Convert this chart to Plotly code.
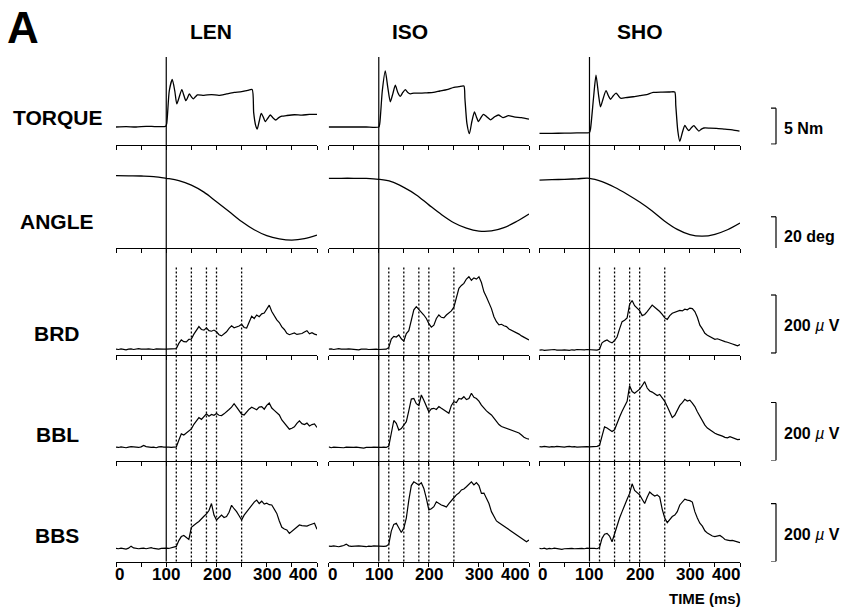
import plotly.graph_objects as go
from plotly.subplots import make_subplots

W, H = 851, 608
FONT = "Liberation Sans, Arial, Helvetica, sans-serif"

# ---------------- data ----------------
conditions = ["LEN", "ISO", "SHO"]
row_labels = ["TORQUE", "ANGLE", "BRD", "BBL", "BBS"]
tick_vals = [0, 50, 100, 150, 200, 250, 300, 350, 400]
label_vals = [0, 100, 200, 300, 400]
label_text = ["0", "100", "200", "300", "400"]
onset_ms = 100
burst_marks_ms = [120, 150, 180, 200, 250]

# torque (Nm, relative)
len_torque_t = [0, 20, 40, 60, 80, 99, 101, 106, 112, 117, 121, 126, 131, 135, 139, 142, 146, 150, 154, 158,
                162, 175, 190, 205, 220, 235, 250, 262, 271, 274, 278, 281, 285, 289, 293, 297, 302, 307, 312, 318,
                324, 330, 340, 355, 370, 385, 400]
len_torque = [0, 0.05, 0, 0.1, 0.05, 0.1, 0.5, 5.0, 6.6, 5.0, 3.2, 4.2, 5.2, 4.4, 3.65, 4.0, 4.6, 4.2, 3.9, 4.2,
              4.45, 4.4, 4.5, 4.4, 4.6, 4.8, 4.9, 5.1, 5.2, 2.0, 0.2, -0.3, 0.8, 1.9, 1.4, 0.75, 1.2, 1.67, 1.3, 0.97,
              1.3, 1.5, 1.6, 1.7, 1.65, 1.75, 1.75]
iso_torque_t = [0, 25, 50, 75, 100, 102, 107, 113, 118, 123, 128, 133, 138, 143, 148, 153, 158, 163, 170, 183,
                196, 209, 222, 236, 250, 260, 270, 272, 276, 281, 286, 291, 295, 299, 304, 309, 316, 323, 331, 339,
                348, 359, 370, 385, 400]
iso_torque = [0, 0, 0, 0, 0, 0.5, 5.0, 7.8, 5.5, 3.5, 4.6, 5.8, 4.8, 4.25, 4.8, 5.2, 4.8, 4.6, 4.7, 4.7,
              4.75, 4.8, 5.0, 5.2, 5.5, 5.6, 5.7, 4.0, 0.5, -0.93, 0.8, 2.1, 1.4, 0.75, 1.3, 1.75, 1.4, 1.0, 1.4, 1.67,
              1.3, 1.57, 1.4, 1.3, 1.1]
sho_torque_t = [0, 25, 50, 75, 100, 102, 108, 113, 118, 122, 127, 133, 138, 142, 147, 153, 158, 162, 175, 187,
                200, 214, 227, 245, 260, 270, 272, 276, 280, 285, 290, 294, 298, 303, 308, 313, 318, 323, 328, 340,
                353, 370, 385, 399]
sho_torque = [-0.88, -0.88, -0.85, -0.82, -0.75, -0.3, 4.0, 7.2, 4.5, 2.8, 3.9, 5.05, 4.3, 3.85, 4.3, 4.7, 4.3, 4.0, 4.1, 4.2,
              4.35, 4.5, 4.8, 4.85, 4.86, 4.86, 3.0, -0.5, -2.0, -0.8, 0.23, -0.2, -0.5, -0.1, 0.18, -0.2, -0.56, -0.3, -0.14, -0.15,
              -0.18, -0.3, -0.4, -0.56]

# elbow angle (deg, relative)
angle_t = [0, 25, 50, 75, 100, 125, 150, 175, 200, 225, 250, 275, 300, 325, 350, 375, 400]
len_angle = [0.2, 0.1, 0, -0.3, -1.3, -2.6, -5.2, -9.2, -14.7, -20.3, -26, -30.7, -34.1, -35.9, -36.6, -35.8, -33.8]
iso_angle = [-1.3, -1.3, -1.3, -1.4, -1.9, -3.2, -6.5, -10.8, -16.5, -22, -26.7, -29.8, -31.5, -31.4, -29.5, -26, -21.7]
sho_angle = [-2.3, -2.1, -1.9, -1.6, -1.3, -3.2, -6.4, -10.4, -14.9, -20, -25.8, -30.5, -33.5, -34.4, -33.3, -30.7, -26.9]

# rectified EMG (uV), every 5 ms from 0 to 400 ms
emg_t = list(range(0, 401, 5))
len_brd = [20, 19, 21, 20, 18, 20, 21, 19, 20, 22, 20, 19, 20, 21, 20, 19, 21, 20, 19, 20,
           20, 21, 20, 21, 22, 40, 52, 46, 45, 54, 55, 72, 86, 98, 88, 86, 94, 84, 82, 86,
           80, 70, 66, 74, 80, 92, 101, 94, 96, 100, 106, 95, 93, 112, 134, 126, 138, 132, 142, 145,
           157, 172, 150, 136, 121, 112, 97, 88, 75, 70, 73, 76, 71, 72, 74, 79, 84, 73, 77, 72, 69]
len_bbl = [46, 45, 47, 46, 44, 46, 48, 47, 46, 45, 47, 52, 48, 46, 45, 46, 44, 47, 48, 46,
           47, 46, 45, 46, 47, 70, 92, 88, 94, 100, 109, 125, 138, 148, 142, 152, 161, 153, 159, 156,
           162, 156, 155, 161, 167, 176, 184, 196, 184, 172, 160, 157, 168, 177, 184, 179, 175, 184, 186, 177,
           190, 198, 181, 173, 165, 157, 140, 128, 116, 108, 111, 116, 128, 137, 127, 124, 129, 119, 124, 126, 114]
len_bbs = [45, 44, 46, 45, 43, 46, 53, 47, 45, 44, 45, 46, 44, 46, 48, 45, 44, 43, 45, 46,
           46, 45, 47, 48, 52, 72, 86, 90, 82, 76, 118, 126, 132, 138, 149, 156, 164, 176, 200, 160,
           143, 152, 160, 152, 155, 170, 194, 182, 172, 158, 143, 160, 172, 180, 195, 205, 212, 200, 208, 198,
           201, 196, 195, 182, 166, 140, 118, 112, 109, 97, 104, 114, 120, 126, 124, 122, 122, 126, 128, 132, 111]
iso_brd = [20, 21, 19, 20, 22, 20, 19, 20, 21, 20, 19, 20, 18, 20, 21, 20, 19, 20, 21, 20,
           19, 20, 21, 20, 26, 55, 64, 62, 69, 56, 48, 74, 84, 118, 156, 167, 158, 150, 138, 126,
           108, 96, 103, 126, 138, 130, 128, 138, 144, 152, 165, 195, 230, 240, 247, 262, 270, 258, 266, 262,
           270, 250, 218, 200, 180, 160, 132, 115, 104, 106, 101, 98, 90, 86, 80, 76, 72, 66, 62, 58, 52]
iso_bbl = [47, 44, 46, 45, 44, 45, 44, 46, 45, 44, 45, 46, 45, 44, 43, 45, 44, 45, 46, 45,
           44, 45, 46, 45, 50, 100, 138, 128, 105, 110, 122, 134, 172, 212, 214, 196, 190, 226, 208, 190,
           168, 178, 180, 176, 186, 180, 174, 170, 163, 190, 203, 200, 214, 212, 220, 210, 214, 232, 218, 214,
           205, 191, 180, 171, 164, 157, 146, 134, 124, 117, 114, 111, 108, 105, 102, 99, 95, 88, 80, 76, 74]
iso_bbs = [53, 52, 54, 53, 51, 53, 55, 60, 54, 52, 53, 52, 54, 53, 52, 51, 53, 52, 54, 53,
           52, 53, 52, 53, 60, 105, 128, 132, 118, 100, 115, 150, 212, 262, 275, 270, 264, 272, 252, 218,
           178, 182, 189, 206, 200, 195, 192, 188, 200, 212, 220, 230, 236, 247, 250, 258, 266, 275, 264, 272,
           262, 235, 236, 216, 200, 172, 156, 140, 134, 128, 122, 115, 110, 104, 99, 93, 88, 80, 74, 68, 74]
sho_brd = [17, 18, 16, 17, 18, 17, 19, 17, 16, 17, 18, 17, 16, 18, 17, 19, 18, 17, 18, 19,
           18, 17, 16, 17, 20, 42, 48, 52, 46, 42, 50, 62, 90, 115, 120, 128, 175, 188, 170, 160,
           153, 136, 140, 150, 160, 172, 165, 158, 150, 140, 128, 123, 136, 144, 148, 150, 154, 152, 158, 156,
           162, 160, 150, 130, 103, 90, 75, 68, 63, 60, 54, 56, 52, 48, 46, 44, 40, 38, 35, 32, 36]
sho_bbl = [48, 47, 49, 48, 46, 48, 47, 49, 48, 47, 46, 48, 49, 47, 48, 46, 47, 48, 49, 48,
           47, 48, 47, 49, 52, 86, 116, 112, 105, 100, 106, 132, 150, 170, 186, 204, 258, 238, 232, 238,
           246, 258, 272, 250, 240, 236, 230, 224, 228, 215, 204, 186, 165, 148, 156, 172, 190, 200, 211, 205,
           208, 198, 186, 168, 151, 136, 122, 112, 105, 98, 94, 90, 88, 84, 80, 78, 82, 78, 76, 72, 73]
sho_bbs = [45, 44, 46, 43, 45, 44, 46, 45, 44, 42, 44, 45, 46, 45, 44, 45, 46, 45, 44, 46,
           45, 46, 45, 44, 48, 80, 94, 97, 88, 68, 98, 128, 150, 172, 196, 215, 235, 268, 245, 236,
           230, 215, 200, 222, 240, 232, 226, 230, 222, 180, 150, 134, 146, 155, 160, 172, 195, 206, 215, 212,
           210, 205, 172, 150, 132, 122, 106, 98, 92, 88, 86, 88, 90, 84, 76, 74, 72, 73, 70, 68, 65]

scale_values = [5, 20, 200, 200, 200]
scale_labels = ["<b>5 Nm</b>", "<b>20 deg</b>", "<b>200 </b><i>µ</i><b> V</b>",
                "<b>200 </b><i>µ</i><b> V</b>", "<b>200 </b><i>µ</i><b> V</b>"]

# ---------------- layout geometry (pixels) ----------------
col_px = [(116, 317), (328.7, 529), (539.3, 740)]
row_px = [(55, 144.5), (150, 248), (258, 355), (362, 460.5), (466, 561.5)]
y_ranges = [[-2.43, 10.0], [-41.14, 14.86], [0, 334.7], [0, 339.8], [0, 329.5]]
scale_base = [-2.38, -43.3, 7, 0, 0]


def px_x(p):
    return p / W


def px_y(p):
    return 1 - p / H


fig = make_subplots(rows=5, cols=3)

series = {
    0: [(len_torque_t, len_torque), (angle_t, len_angle), (emg_t, len_brd), (emg_t, len_bbl), (emg_t, len_bbs)],
    1: [(iso_torque_t, iso_torque), (angle_t, iso_angle), (emg_t, iso_brd), (emg_t, iso_bbl), (emg_t, iso_bbs)],
    2: [(sho_torque_t, sho_torque), (angle_t, sho_angle), (emg_t, sho_brd), (emg_t, sho_bbl), (emg_t, sho_bbs)],
}

for c in range(3):
    for r in range(5):
        xs, ys = series[c][r]
        if r == 0:
            line = dict(color="black", width=1.3, shape="spline", smoothing=0.6)
        elif r == 1:
            line = dict(color="black", width=1.3, shape="spline")
        else:
            line = dict(color="black", width=1.2, shape="linear")
        fig.add_trace(go.Scatter(x=xs, y=ys, mode="lines", line=line,
                                 hoverinfo="skip", showlegend=False),
                      row=r + 1, col=c + 1)

for r in range(5):
    for c in range(3):
        idx = r * 3 + c + 1
        xname = "xaxis" if idx == 1 else f"xaxis{idx}"
        yname = "yaxis" if idx == 1 else f"yaxis{idx}"
        fig.layout[xname].update(
            domain=[px_x(col_px[c][0]), px_x(col_px[c][1])],
            range=[0, 400], showline=True, linecolor="black", linewidth=1.2,
            ticks="outside", ticklen=4, tickwidth=1.2, tickcolor="black",
            tickmode="array", tickvals=tick_vals,
            showticklabels=False, showgrid=False, zeroline=False,
        )
        fig.layout[yname].update(
            domain=[px_y(row_px[r][1]), px_y(row_px[r][0])],
            range=y_ranges[r], visible=False, showgrid=False, zeroline=False,
        )

shapes = []
annotations = []
for c in range(3):
    xref = "x" if c == 0 else f"x{c + 1}"
    shapes.append(dict(type="line", xref=xref, yref="paper", x0=onset_ms, x1=onset_ms,
                       y0=px_y(561.5), y1=px_y(57), line=dict(color="black", width=1.2)))
    for m in burst_marks_ms:
        shapes.append(dict(type="line", xref=xref, yref="paper", x0=m, x1=m,
                           y0=px_y(561.5), y1=px_y(267),
                           line=dict(color="black", width=1.3, dash="2px,2px")))
    # bottom tick labels
    bref = f"x{12 + c + 1}"
    for v, t in zip(label_vals, label_text):
        anchor = "left" if v == label_vals[0] else ("right" if v == label_vals[-1] else "center")
        annotations.append(dict(text=f"<b>{t}</b>", xref=bref, yref="paper", x=v, y=px_y(574),
                                xanchor=anchor, yanchor="middle", showarrow=False, borderpad=0,
                                xshift=(-2 if v == label_vals[0] else (1 if v == label_vals[-1] else 0)),
                                font=dict(family=FONT, size=17, color="black")))

for r in range(5):
    idx = r * 3 + 3
    yref = f"y{idx}"
    y0 = scale_base[r]
    y1 = y0 + scale_values[r]
    bx = px_x(776)
    shapes.append(dict(type="line", xref="paper", yref=yref, x0=bx, x1=bx, y0=y0, y1=y1,
                       line=dict(color="black", width=1.2)))
    for yy in (y0, y1):
        shapes.append(dict(type="line", xref="paper", yref=yref, x0=px_x(771), x1=bx, y0=yy, y1=yy,
                           line=dict(color="black", width=1.2)))
    annotations.append(dict(text=scale_labels[r], xref="paper", yref=yref, x=px_x(782), y=(y0 + y1) / 2,
                            xanchor="left", yanchor="middle", yshift=-2, showarrow=False,
                            font=dict(family=FONT, size=16, color="black")))

label_y = [117, 222, 333, 434, 535]
for r in range(5):
    annotations.append(dict(text=f"<b>{row_labels[r]}</b>", xref="paper", yref="paper",
                            x=px_x(57), y=px_y(label_y[r]), xanchor="center", yanchor="middle",
                            showarrow=False, font=dict(family=FONT, size=21, color="black")))

title_x = [211, 410, 640]
for c in range(3):
    annotations.append(dict(text=f"<b>{conditions[c]}</b>", xref="paper", yref="paper",
                            x=px_x(title_x[c]), y=px_y(31), xanchor="center", yanchor="middle",
                            showarrow=False, font=dict(family=FONT, size=21, color="black")))

annotations.append(dict(text="<b>A</b>", xref="paper", yref="paper", x=px_x(5), y=px_y(27),
                        xanchor="left", yanchor="middle", showarrow=False,
                        font=dict(family=FONT, size=44, color="black")))
annotations.append(dict(text="<b>TIME (ms)</b>", xref="paper", yref="paper", x=px_x(743), y=px_y(598),
                        xanchor="right", yanchor="middle", showarrow=False,
                        font=dict(family=FONT, size=15, color="black")))

fig.update_layout(
    width=W, height=H, margin=dict(l=0, r=0, t=0, b=0),
    paper_bgcolor="white", plot_bgcolor="white",
    showlegend=False, shapes=shapes, annotations=annotations,
    font=dict(family=FONT, color="black"),
)

fig.write_html("out.html")
